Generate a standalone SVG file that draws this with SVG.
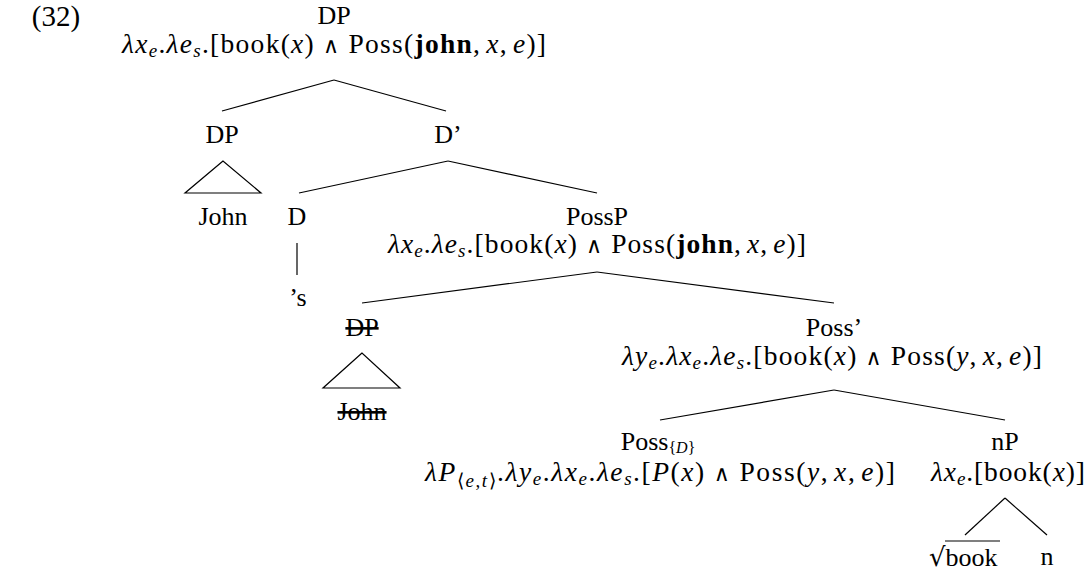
<svg xmlns="http://www.w3.org/2000/svg" width="1088" height="571" viewBox="0 0 1088 571">
<style>
text{font-family:"Liberation Serif","Times New Roman",serif;font-size:26px;fill:#000;text-anchor:middle}
.m{font-size:27.5px}
.i{font-style:italic}
.b{font-weight:bold}
.s{font-size:19px}
.w{font-family:"DejaVu Serif",serif;font-size:22px}
.st{text-decoration:line-through}
#edges line,#edges polygon{stroke:#000;stroke-width:1.2;fill:none}
</style>
<rect width="1088" height="571" fill="#fff"/>
<text x="56" y="26" style="font-size:29px">(32)</text>
<g id="edges">
<line x1="334" y1="80" x2="222" y2="111"/>
<line x1="334" y1="80" x2="446" y2="111"/>
<polygon points="223,161 185,193 261,193"/>
<line x1="448" y1="161" x2="299" y2="193"/>
<line x1="448" y1="161" x2="597" y2="193"/>
<line x1="297" y1="243" x2="297" y2="275"/>
<line x1="597" y1="272" x2="362" y2="303"/>
<line x1="597" y1="272" x2="834" y2="303"/>
<polygon points="362,353 323,388 400,388"/>
<line x1="834" y1="390" x2="660" y2="420"/>
<line x1="834" y1="390" x2="1005" y2="420"/>
<line x1="1005" y1="498" x2="965" y2="535"/>
<line x1="1005" y1="498" x2="1047" y2="535"/>
</g>
<g id="n-root">
<text x="334" y="24">DP</text>
<text class="m" x="334" y="53" textLength="424" lengthAdjust="spacing"><tspan class="i">λx</tspan><tspan class="s i" dy="4">e</tspan><tspan dy="-4">.</tspan><tspan class="i">λe</tspan><tspan class="s i" dy="4">s</tspan><tspan dy="-4">.[book(</tspan><tspan class="i">x</tspan>)<tspan class="w" dx="8">∧</tspan><tspan dx="8">Poss(</tspan><tspan class="b">john</tspan>,<tspan class="i" dx="5">x</tspan>,<tspan class="i" dx="5">e</tspan>)]</text>
</g>
<g id="n-dp1"><text x="222" y="143">DP</text></g>
<g id="n-john1"><text x="223" y="225">John</text></g>
<g id="n-dbar"><text x="448" y="143">D’</text></g>
<g id="n-d"><text x="297" y="225">D</text></g>
<g id="n-s"><text x="298" y="306">’s</text></g>
<g id="n-possp">
<text x="597" y="225">PossP</text>
<text class="m" x="597" y="253" textLength="418" lengthAdjust="spacing"><tspan class="i">λx</tspan><tspan class="s i" dy="4">e</tspan><tspan dy="-4">.</tspan><tspan class="i">λe</tspan><tspan class="s i" dy="4">s</tspan><tspan dy="-4">.[book(</tspan><tspan class="i">x</tspan>)<tspan class="w" dx="8">∧</tspan><tspan dx="8">Poss(</tspan><tspan class="b">john</tspan>,<tspan class="i" dx="5">x</tspan>,<tspan class="i" dx="5">e</tspan>)]</text>
</g>
<g id="n-dp2"><text x="362" y="336" class="st">DP</text></g>
<g id="n-john2"><text x="362" y="420" class="st">John</text></g>
<g id="n-possbar">
<text x="834" y="336">Poss’</text>
<text class="m" x="832" y="365" textLength="420" lengthAdjust="spacing"><tspan class="i">λy</tspan><tspan class="s i" dy="4">e</tspan><tspan dy="-4">.</tspan><tspan class="i">λx</tspan><tspan class="s i" dy="4">e</tspan><tspan dy="-4">.</tspan><tspan class="i">λe</tspan><tspan class="s i" dy="4">s</tspan><tspan dy="-4">.[book(</tspan><tspan class="i">x</tspan>)<tspan class="w" dx="8">∧</tspan><tspan dx="8">Poss(</tspan><tspan class="i">y</tspan>,<tspan class="i" dx="5">x</tspan>,<tspan class="i" dx="5">e</tspan>)]</text>
</g>
<g id="n-possd">
<text x="658" y="450">Poss<tspan style="font-size:16px" dy="3">{</tspan><tspan style="font-size:16px" class="i">D</tspan><tspan style="font-size:16px">}</tspan></text>
<text class="m" x="660" y="481" textLength="470" lengthAdjust="spacing"><tspan class="i">λP</tspan><tspan class="s" dy="6">⟨</tspan><tspan class="s i">e</tspan><tspan class="s">,</tspan><tspan class="s i">t</tspan><tspan class="s">⟩</tspan><tspan dy="-6">.</tspan><tspan class="i">λy</tspan><tspan class="s i" dy="4">e</tspan><tspan dy="-4">.</tspan><tspan class="i">λx</tspan><tspan class="s i" dy="4">e</tspan><tspan dy="-4">.</tspan><tspan class="i">λe</tspan><tspan class="s i" dy="4">s</tspan><tspan dy="-4">.[</tspan><tspan class="i">P</tspan>(<tspan class="i">x</tspan>)<tspan class="w" dx="8">∧</tspan><tspan dx="8">Poss(</tspan><tspan class="i">y</tspan>,<tspan class="i" dx="5">x</tspan>,<tspan class="i" dx="5">e</tspan>)]</text>
</g>
<g id="n-np">
<text x="1005" y="450">nP</text>
<text class="m" x="1008" y="481" textLength="154" lengthAdjust="spacing"><tspan class="i">λx</tspan><tspan class="s i" dy="4">e</tspan><tspan dy="-4">.[book(</tspan><tspan class="i">x</tspan>)]</text>
</g>
<g id="n-book">
<text x="929" y="566" style="text-anchor:start"><tspan style="font-family:'DejaVu Serif',serif;font-size:26px">√</tspan>book</text>
<line x1="945" y1="541" x2="1000" y2="541" stroke="#000" stroke-width="1.2"/>
</g>
<g id="n-n"><text x="1047" y="565">n</text></g>
</svg>
